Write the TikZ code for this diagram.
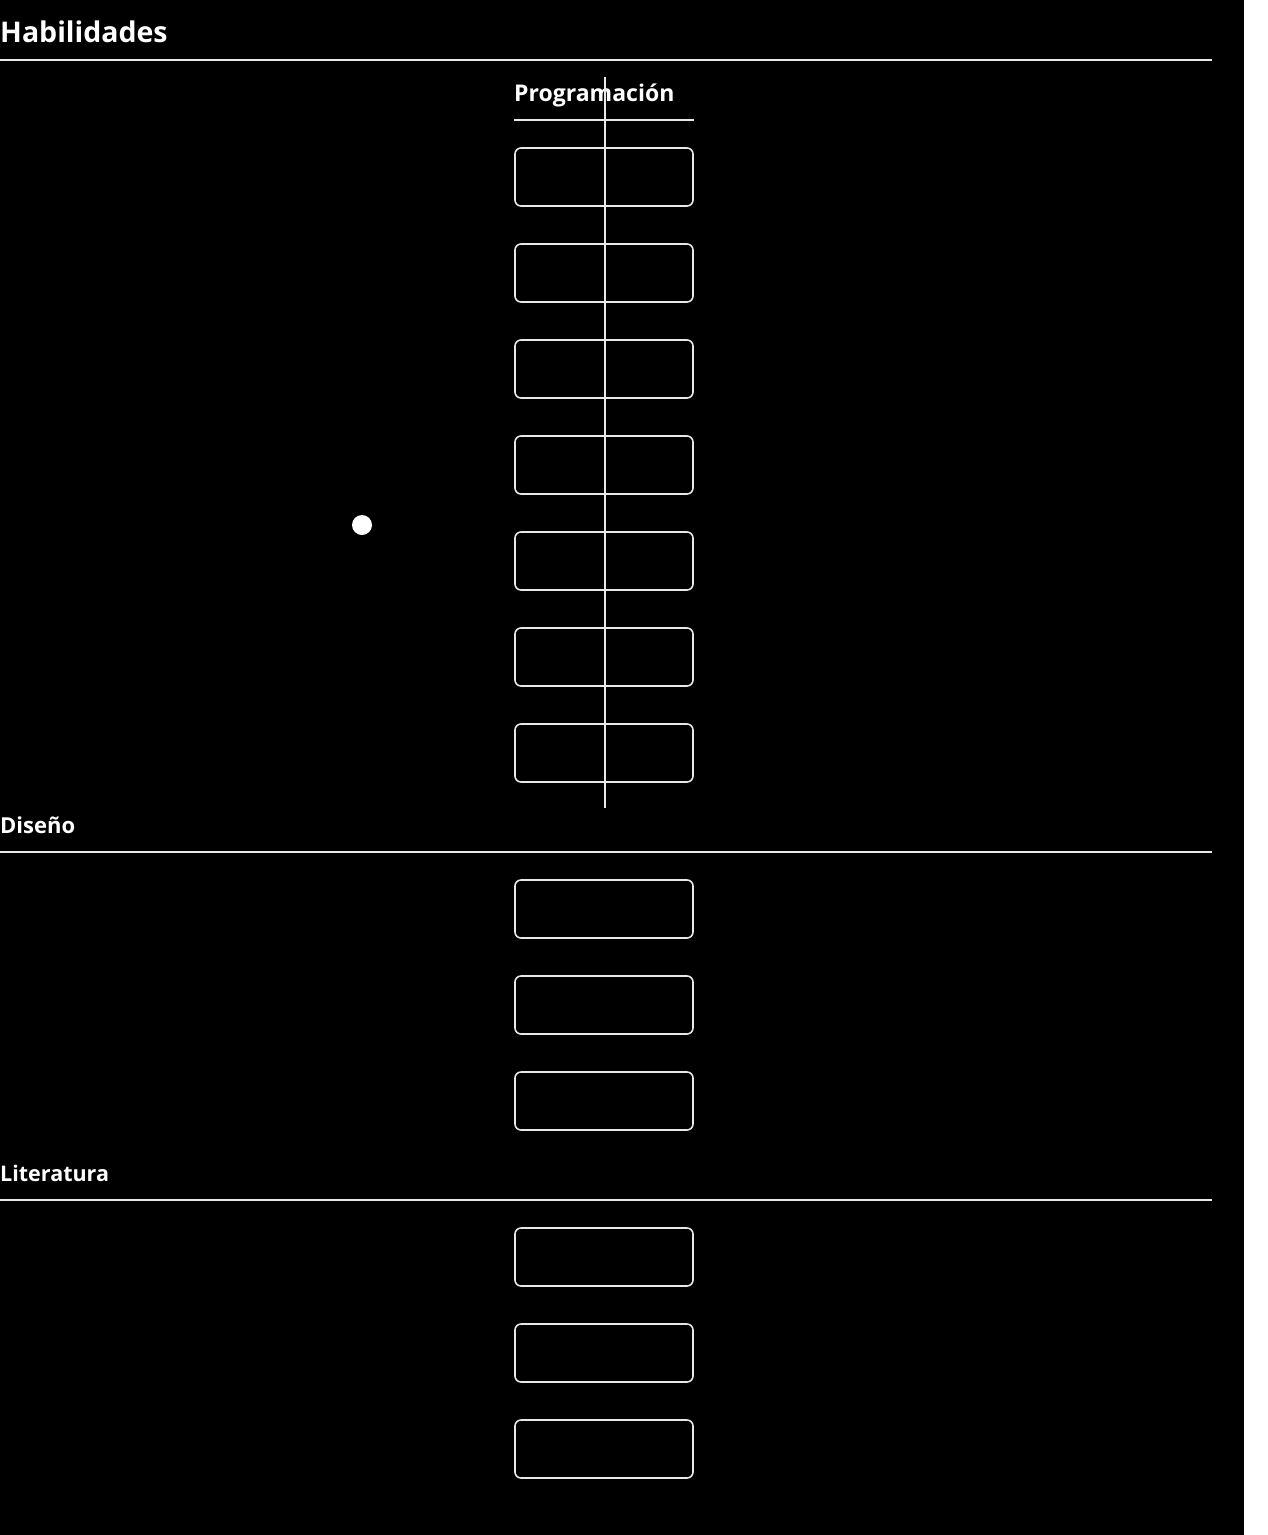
\documentclass[tikz,border=0pt]{standalone}
\usepackage{fontspec}
\setmainfont{Open Sans}
\definecolor{linec}{HTML}{E8E8E8}
\begin{document}
\begin{tikzpicture}[x=1pt,y=-1pt,
  skillbox/.style={draw=linec,line width=1.6pt,rounded corners=6pt,minimum width=178pt,minimum height=58pt,inner sep=0pt},
  rulel/.style={draw=linec,line width=1.8pt},
  heading/.style={text=white,font=\bfseries,anchor=base west,inner sep=0pt}]
\fill[black] (0,0) rectangle (1244,1535);
\fill[white] (1244,0) rectangle (1268,1535);
\useasboundingbox (0,0) rectangle (1268,1535);
% headings
\node[heading,font=\bfseries\fontsize{28.5}{31}\selectfont] (hab) at (0,42) {Habilidades};
\node[heading,font=\bfseries\fontsize{23}{26}\selectfont] (prog) at (514,101) {Programación};
\node[heading,font=\bfseries\fontsize{22}{26}\selectfont] (dis) at (0,833) {Diseño};
\node[heading,font=\bfseries\fontsize{21.5}{26}\selectfont] (lit) at (0,1181) {Literatura};
% rules
\coordinate (r1a) at (0,60); \coordinate (r1b) at (1212,60);
\coordinate (r2a) at (0,852); \coordinate (r2b) at (1212,852);
\coordinate (r3a) at (0,1200); \coordinate (r3b) at (1212,1200);
\coordinate (pa) at (514,120); \coordinate (pb) at (694,120);
\draw[rulel] (r1a) -- (r1b);
\draw[rulel] (r2a) -- (r2b);
\draw[rulel] (r3a) -- (r3b);
\draw[rulel] (pa) -- (pb);
% boxes
\foreach \i/\y in {1/177,2/273,3/369,4/465,5/561,6/657,7/753}
  \node[skillbox] (p\i) at (604,\y) {};
\foreach \i/\y in {1/909,2/1005,3/1101}
  \node[skillbox] (d\i) at (604,\y) {};
\foreach \i/\y in {1/1257,2/1353,3/1449}
  \node[skillbox] (l\i) at (604,\y) {};
% vertical line
\coordinate (va) at (605,77); \coordinate (vb) at (605,808);
\draw[draw=linec,line width=1.6pt] (va) -- (vb);
% dot
\node[circle,fill=white,minimum size=20pt,inner sep=0pt] (dot) at (362,525) {};
\end{tikzpicture}
\end{document}
